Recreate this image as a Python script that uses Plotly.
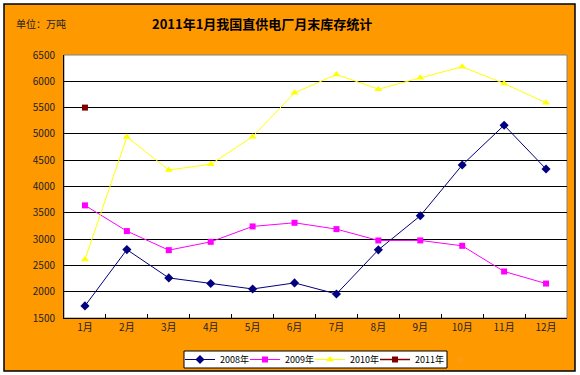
import plotly.graph_objects as go

months = ["1月", "2月", "3月", "4月", "5月", "6月", "7月", "8月", "9月", "10月", "11月", "12月"]
s2008 = [1730, 2800, 2262, 2155, 2052, 2167, 1957, 2796, 3443, 4409, 5165, 4333]
s2009 = [3641, 3152, 2790, 2948, 3241, 3310, 3190, 2974, 2975, 2872, 2384, 2155]
s2010 = [2612, 4942, 4314, 4422, 4948, 5781, 6129, 5851, 6066, 6275, 5958, 5590]
s2011 = [5500]
months2011 = ["1月"]

W, H = 580, 375
L, R, T, B = 64, 567, 55, 318
pw, ph = R - L, B - T

def px(x):
    return (x - L) / pw

def py(y):
    return (B - y) / ph

font = "Noto Sans CJK SC, SimSun, sans-serif"

fig = go.Figure()
fig.add_trace(go.Scatter(x=months, y=s2008, name="2008年", mode="lines+markers",
                         line=dict(color="#000080", width=1),
                         marker=dict(symbol="diamond", size=7, color="#000080")))
fig.add_trace(go.Scatter(x=months, y=s2009, name="2009年", mode="lines+markers",
                         line=dict(color="#FF00FF", width=1),
                         marker=dict(symbol="square", size=6, color="#FF00FF")))
fig.add_trace(go.Scatter(x=months, y=s2010, name="2010年", mode="lines+markers",
                         line=dict(color="#FFFF00", width=1),
                         marker=dict(symbol="triangle-up", size=7, color="#FFFF00")))
fig.add_trace(go.Scatter(x=months2011, y=s2011, name="2011年", mode="lines+markers",
                         line=dict(color="#800000", width=1.5),
                         marker=dict(symbol="square", size=6, color="#800000")))
# empty spacer entry so the last legend label is not clipped
fig.add_trace(go.Scatter(x=[None], y=[None], name=" ", mode="markers",
                         marker=dict(opacity=0), hoverinfo="skip"))

shapes = [
    dict(type="rect", xref="paper", yref="paper", layer="below",
         x0=px(4), x1=px(575), y0=py(371), y1=py(4),
         fillcolor="#FF9900", line=dict(color="black", width=1.5)),
    dict(type="rect", xref="paper", yref="paper", layer="below",
         x0=0, x1=1, y0=0, y1=1, fillcolor="white", line=dict(color="#808080", width=1)),
    dict(type="rect", xref="paper", yref="paper", layer="below",
         x0=px(184), x1=px(447), y0=py(368), y1=py(351),
         fillcolor="white", line=dict(color="black", width=1)),
]

fig.update_layout(
    width=W, height=H,
    margin=dict(l=L, r=W - R, t=T, b=H - B, autoexpand=False),
    paper_bgcolor="white", plot_bgcolor="white",
    font=dict(family=font, size=10, color="#222222"),
    shapes=shapes,
    showlegend=True,
    legend=dict(orientation="h", x=px(180), xanchor="left", y=py(345), yanchor="top",
                bgcolor="rgba(0,0,0,0)", borderwidth=0,
                font=dict(size=9, color="black"), itemwidth=30,
                entrywidth=20, entrywidthmode="pixels",
                tracegroupgap=0),
    annotations=[
        dict(text="<b>2011年1月我国直供电厂月末库存统计</b>", xref="paper", yref="paper",
             x=px(262), y=py(23), xanchor="center", yanchor="middle", showarrow=False,
             font=dict(size=13, color="black", family=font)),
        dict(text="单位：万吨", xref="paper", yref="paper",
             x=px(14), y=py(24), xanchor="left", yanchor="middle", showarrow=False,
             font=dict(size=10, color="#222222", family=font)),
    ],
)
fig.update_xaxes(type="category", categoryorder="array", categoryarray=months,
                 range=[-0.5, 11.5], showline=True, linecolor="black", linewidth=1,
                 ticks="inside", tickson="boundaries", ticklen=4, tickcolor="black",
                 showgrid=False, zeroline=False, tickfont=dict(size=10))
fig.update_yaxes(range=[1500, 6500], dtick=500, showline=True, linecolor="black",
                 linewidth=1, showgrid=True, gridcolor="black", gridwidth=1,
                 zeroline=False, ticks="", ticklabelstandoff=6, tickfont=dict(size=10))

fig.write_html("out.html", config={"displayModeBar": False},
               post_script="document.body.style.margin='0';document.body.style.overflow='hidden';")
